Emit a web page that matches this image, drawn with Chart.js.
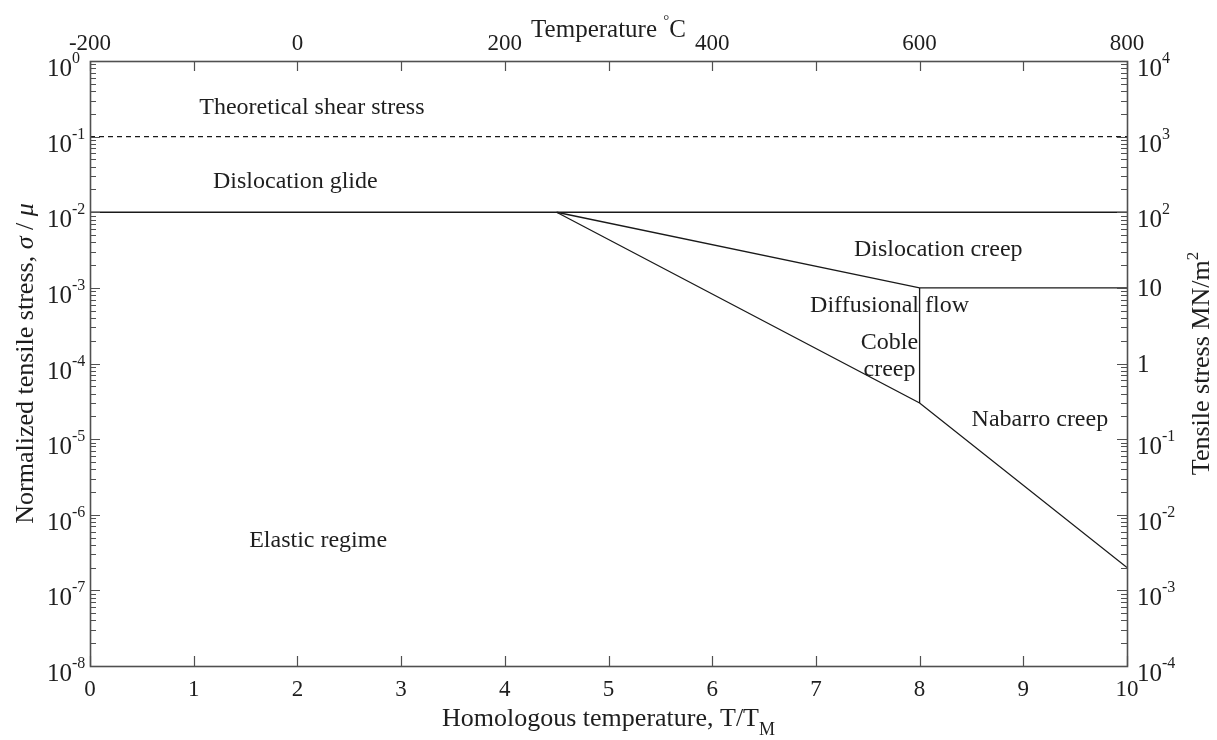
<!DOCTYPE html>
<html>
<head>
<meta charset="utf-8">
<script src="https://cdn.jsdelivr.net/npm/chart.js@4"></script>
<style>
  body { margin: 0; background: #fff; }
  #wrap { width: 1217px; height: 740px; }
</style>
</head>
<body>
<div id="wrap"><canvas id="chart"></canvas></div>
<script>
// Regime boundaries, x = homologous temperature, y = normalized stress sigma/mu
const shearLimitX = [0, 10];
const shearLimitY = [1e-1, 1e-1];
const glideLimitX = [0, 10];
const glideLimitY = [1e-2, 1e-2];
const creepLimitX = [4.5, 8, 10];
const creepLimitY = [1e-2, 1e-3, 1e-3];
const diffusionLimitX = [4.5, 8, 10];
const diffusionLimitY = [1e-2, 3e-5, 2e-7];
const cobleLimitX = [8, 8];
const cobleLimitY = [1e-3, 3e-5];

// Region names and where they sit
const regionNames = ['Theoretical shear stress', 'Dislocation glide', 'Dislocation creep',
  'Diffusional flow', 'Coble', 'creep', 'Nabarro creep', 'Elastic regime'];
const regionX = [2.14, 1.98, 8.18, 7.71, 7.71, 7.71, 9.16, 2.2];
const regionY = [0.24, 0.025, 3.2e-3, 5.9e-4, 1.9e-4, 8.2e-5, 1.8e-5, 4.6e-7];

// Axis ticks
const homologousTicks = [0, 1, 2, 3, 4, 5, 6, 7, 8, 9, 10];
const celsiusTicks = [-200, -100, 0, 100, 200, 300, 400, 500, 600, 700, 800];
const celsiusLabels = [-200, 0, 200, 400, 600, 800];
const normalizedExp = [0, -1, -2, -3, -4, -5, -6, -7, -8];
const tensileValues = [1e4, 1e3, 1e2, 10, 1, 1e-1, 1e-2, 1e-3, 1e-4];
const tensileBase = ['10', '10', '10', '10', '1', '10', '10', '10', '10'];
const tensileExp = ['4', '3', '2', '', '', '-1', '-2', '-3', '-4'];

const SERIF = '"Liberation Serif", "Times New Roman", serif';
const INK = '#1e1e1e';
const AXIS = '#505050';

function pts(xs, ys) {
  return xs.map((x, i) => ({ x: x, y: ys[i] }));
}

function line(label, xs, ys, dash) {
  return {
    label: label,
    data: pts(xs, ys),
    showLine: true,
    borderColor: '#1a1a1a',
    borderWidth: 1.3,
    borderDash: dash || [],
    pointRadius: 0,
    fill: false,
    tension: 0
  };
}

// "10" with a raised exponent; x is where base ends (left side) or starts (right side)
function drawPower(ctx, base, exp, x, y, side) {
  ctx.font = '25px ' + SERIF;
  const bw = ctx.measureText(base).width;
  const bx = side === 'left' ? x - bw : x;
  ctx.textAlign = 'left';
  ctx.textBaseline = 'alphabetic';
  if (exp) {
    ctx.fillText(base, bx, y + 15);
    ctx.font = '16px ' + SERIF;
    ctx.fillText(exp, bx + bw, y + 2);
  } else {
    ctx.fillText(base, bx, y + 8);
  }
}

const axesDecor = {
  id: 'axesDecor',
  afterDraw(chart) {
    const ctx = chart.ctx;
    const a = chart.chartArea;
    const sx = chart.scales.x, sy = chart.scales.y;
    const st = chart.scales.xTop, sr = chart.scales.yRight;
    const snap = v => Math.round(v) + 0.5;
    ctx.save();

    // tick marks, all pointing into the plot
    ctx.strokeStyle = AXIS;
    ctx.lineWidth = 1.2;
    ctx.beginPath();
    homologousTicks.forEach(v => {
      const px = snap(sx.getPixelForValue(v));
      ctx.moveTo(px, a.bottom);
      ctx.lineTo(px, a.bottom - 10);
    });
    celsiusTicks.forEach(v => {
      const px = snap(st.getPixelForValue(v));
      ctx.moveTo(px, a.top);
      ctx.lineTo(px, a.top + 10);
    });
    for (let e = -8; e < 0; e++) {
      for (let m = 1; m < 10; m++) {
        const py = snap(sy.getPixelForValue(m * Math.pow(10, e)));
        ctx.moveTo(a.left, py);
        ctx.lineTo(a.left + (m === 1 ? 10 : 6), py);
      }
    }
    for (let e = -4; e < 4; e++) {
      for (let m = 1; m < 10; m++) {
        const py = snap(sr.getPixelForValue(m * Math.pow(10, e)));
        ctx.moveTo(a.right, py);
        ctx.lineTo(a.right - (m === 1 ? 10 : 6), py);
      }
    }
    ctx.stroke();

    // frame
    ctx.lineWidth = 1.6;
    ctx.strokeRect(snap(a.left), snap(a.top), Math.round(a.width), Math.round(a.height));

    ctx.fillStyle = INK;

    // bottom tick labels
    ctx.font = '23px ' + SERIF;
    ctx.textAlign = 'center';
    ctx.textBaseline = 'alphabetic';
    homologousTicks.forEach(v => {
      ctx.fillText(String(v), sx.getPixelForValue(v), a.bottom + 30);
    });

    // top tick labels
    celsiusLabels.forEach(v => {
      ctx.fillText(String(v), st.getPixelForValue(v), a.top - 11);
    });

    // left tick labels
    normalizedExp.forEach(e => {
      drawPower(ctx, '10', String(e), 72, sy.getPixelForValue(Math.pow(10, e)), 'left');
    });

    // right tick labels
    tensileValues.forEach((v, i) => {
      drawPower(ctx, tensileBase[i], tensileExp[i], a.right + 10, sr.getPixelForValue(v), 'right');
    });

    // top title: Temperature °C
    const midX = (a.left + a.right) / 2;
    ctx.font = '25px ' + SERIF;
    const tw1 = ctx.measureText('Temperature ').width;
    ctx.font = '15px ' + SERIF;
    const tw2 = ctx.measureText('\u00b0').width;
    ctx.font = '25px ' + SERIF;
    const tw3 = ctx.measureText('C').width;
    const tx = midX - (tw1 + tw2 + tw3) / 2;
    ctx.textAlign = 'left';
    ctx.fillText('Temperature ', tx, 37);
    ctx.font = '15px ' + SERIF;
    ctx.fillText('\u00b0', tx + tw1, 25);
    ctx.font = '25px ' + SERIF;
    ctx.fillText('C', tx + tw1 + tw2, 37);

    // bottom title: Homologous temperature, T/T_M
    ctx.font = '26px ' + SERIF;
    const bw1 = ctx.measureText('Homologous temperature, T/T').width;
    ctx.font = '18px ' + SERIF;
    const bw2 = ctx.measureText('M').width;
    const bx = midX - (bw1 + bw2) / 2;
    ctx.font = '26px ' + SERIF;
    ctx.fillText('Homologous temperature, T/T', bx, 726);
    ctx.font = '18px ' + SERIF;
    ctx.fillText('M', bx + bw1, 735);

    // left title
    const midY = (a.top + a.bottom) / 2;
    ctx.save();
    ctx.translate(33, midY);
    ctx.rotate(-Math.PI / 2);
    const parts = [
      ['Normalized tensile stress, ', '26px ' + SERIF],
      ['\u03c3', 'italic 26px ' + SERIF],
      [' / ', '26px ' + SERIF],
      ['\u03bc', 'italic 26px ' + SERIF]
    ];
    let total = 0;
    parts.forEach(p => { ctx.font = p[1]; total += ctx.measureText(p[0]).width; });
    let px = -total / 2;
    parts.forEach(p => {
      ctx.font = p[1];
      ctx.fillText(p[0], px, 0);
      px += ctx.measureText(p[0]).width;
    });
    ctx.restore();

    // right title
    ctx.save();
    ctx.translate(1209, midY);
    ctx.rotate(-Math.PI / 2);
    ctx.font = '26px ' + SERIF;
    const rw1 = ctx.measureText('Tensile stress MN/m').width;
    ctx.font = '17px ' + SERIF;
    const rw2 = ctx.measureText('2').width;
    const rx = -(rw1 + rw2) / 2;
    ctx.font = '26px ' + SERIF;
    ctx.fillText('Tensile stress MN/m', rx, 0);
    ctx.font = '17px ' + SERIF;
    ctx.fillText('2', rx + rw1, -11);
    ctx.restore();

    // regime names inside the map
    ctx.font = '24px ' + SERIF;
    ctx.textAlign = 'center';
    ctx.textBaseline = 'middle';
    regionNames.forEach((name, i) => {
      ctx.fillText(name, sx.getPixelForValue(regionX[i]), sy.getPixelForValue(regionY[i]));
    });

    ctx.restore();
  }
};

const ctx = document.getElementById('chart').getContext('2d');
new Chart(ctx, {
  type: 'scatter',
  data: {
    datasets: [
      line('Theoretical shear stress', shearLimitX, shearLimitY, [5, 4]),
      line('Dislocation glide', glideLimitX, glideLimitY),
      line('Dislocation creep', creepLimitX, creepLimitY),
      line('Diffusional flow', diffusionLimitX, diffusionLimitY),
      line('Coble creep', cobleLimitX, cobleLimitY)
    ]
  },
  options: {
    responsive: true,
    maintainAspectRatio: false,
    animation: false,
    devicePixelRatio: 1,
    layout: { padding: { left: 90, top: 61, right: 90, bottom: 74 } },
    plugins: {
      legend: { display: false },
      tooltip: { enabled: false }
    },
    scales: {
      x: { type: 'linear', min: 0, max: 10, display: false },
      y: { type: 'logarithmic', min: 1e-8, max: 1, display: false },
      xTop: { type: 'linear', position: 'top', min: -200, max: 800, display: false },
      yRight: { type: 'logarithmic', position: 'right', min: 1e-4, max: 1e4, display: false }
    }
  },
  plugins: [axesDecor]
});
</script>
</body>
</html>
